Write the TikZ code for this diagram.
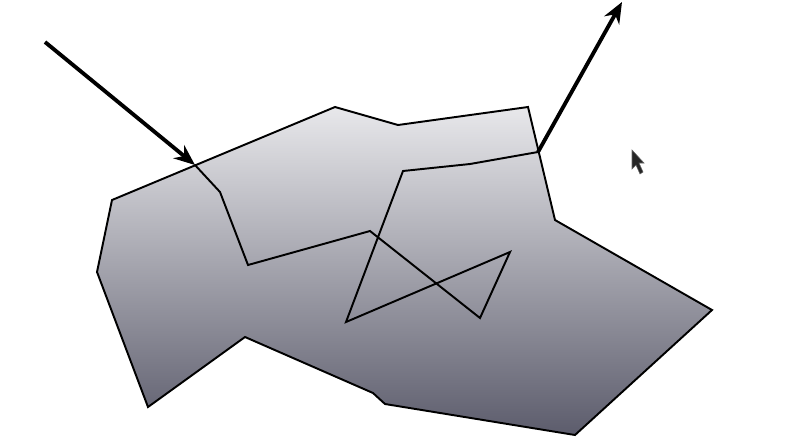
\documentclass[tikz,border=0pt]{standalone}
\usetikzlibrary{arrows.meta}
\definecolor{regtop}{RGB}{232,232,235}
\definecolor{regbot}{RGB}{92,92,108}
\begin{document}
\begin{tikzpicture}[
  x=0.02cm, y=-0.02cm,
  region/.style={draw=black, line width=1.1pt, line join=miter,
                 top color=regtop, bottom color=regbot},
  ray/.style={draw=black, line width=1.1pt, line join=miter},
  arr/.style={draw, -{Stealth[length=4.2mm, width=3.4mm]}, line width=2.2pt},
  pointer/.style={fill=black!85, draw=black!60, line width=0.3pt}
]
\useasboundingbox (0,0) rectangle (807,440);
% the region
\draw[region] (112,200) -- (335,107) -- (398,125) -- (528,107) -- (555,220)
  -- (712,310) -- (575,435) -- (385,404) -- (373,393) -- (245,337)
  -- (148,407) -- (97,272) -- cycle;
% entry and exit points
\coordinate (src) at (45,42);
\coordinate (in)  at (195,165);
\coordinate (out) at (538,152);
\coordinate (dst) at (622,2);
% path through the region
\draw[ray] (in) -- (220,192) -- (248,265) -- (370,231) -- (480,318)
  -- (510,252) -- (346,322) -- (403,171) -- (470,164) -- (out);
\draw[arr] (src) -- (in);
\draw[arr] (out) -- (dst);
% mouse pointer
\fill[pointer] (632,150) -- (632,169) -- (636,165) -- (640,174) -- (643,172)
  -- (639,163) -- (644,163) -- cycle;
\end{tikzpicture}
\end{document}
